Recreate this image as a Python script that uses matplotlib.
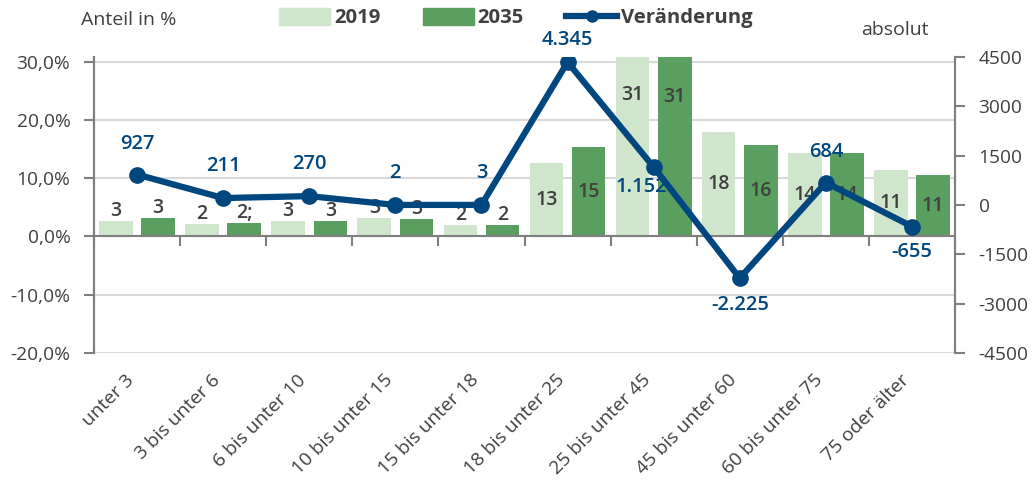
import numpy as np
import matplotlib
matplotlib.use("Agg")
import matplotlib.pyplot as plt
from matplotlib.lines import Line2D
from matplotlib.patches import Patch
from matplotlib.transforms import ScaledTranslation

plt.rcParams['font.family'] = ['Open Sans', 'DejaVu Sans']
plt.rcParams['axes.unicode_minus'] = False

# Altersgruppen und Anteile
kategorien = ["unter 3", "3 bis unter 6", "6 bis unter 10", "10 bis unter 15",
              "15 bis unter 18", "18 bis unter 25", "25 bis unter 45",
              "45 bis unter 60", "60 bis unter 75", "75 oder älter"]
anteil_2019 = [2.6, 2.2, 2.6, 3.2, 2.0, 12.6, 31.0, 17.9, 14.4, 11.4]
anteil_2035 = [3.1, 2.3, 2.7, 3.0, 1.9, 15.3, 30.8, 15.7, 14.4, 10.5]
etiketten_2019 = ["3", "2", "3", "3", "2", "13", "31", "18", "14", "11"]
etiketten_2035 = ["3", "2;", "3", "3", "2", "15", "31", "16", "14", "11"]
veraenderung = [927, 211, 270, 2, 3, 4345, 1152, -2225, 684, -655]

hell = "#cfe5cc"
dunkel = "#5a9e60"
blau = "#00467f"
grau_text = "#404040"
grau_achse = "#7f7f7f"

fig = plt.figure(figsize=(10.35, 4.95), dpi=100)
ax = fig.add_axes([94 / 1035, 1 - 353 / 495, (955 - 94) / 1035, (353 - 57) / 495])
ax2 = ax.twinx()

x = np.arange(len(kategorien))
breite = 0.39
off = 0.245
ax.bar(x - off, anteil_2019, breite, color=hell, zorder=2)
ax.bar(x + off, anteil_2035, breite, color=dunkel, zorder=2)

# Beschriftung der Balken
def balken_text(xpos, wert, text):
    if wert < 5:
        ax.annotate(text, (xpos, wert), xytext=(0, 0), textcoords="offset points",
                    ha="center", va="bottom", fontsize=14, fontweight="semibold",
                    color=grau_text, zorder=3)
    elif wert > 25:
        ax.text(xpos, wert - 6.8, text, ha="center", va="center", fontsize=14,
                fontweight="semibold", color=grau_text, zorder=3)
    else:
        ax.text(xpos, wert / 2, text, ha="center", va="center", fontsize=14,
                fontweight="semibold", color=grau_text, zorder=3)

for i in range(len(x)):
    balken_text(x[i] - off, anteil_2019[i], etiketten_2019[i])
    balken_text(x[i] + off, anteil_2035[i], etiketten_2035[i])

ax.set_xlim(-0.5, len(x) - 0.5)
ax.set_ylim(-20, 30.8)
ax.set_yticks(np.arange(-20, 31, 10))
ax.set_yticklabels([f"{v:.1f}".replace(".", ",") + "%" for v in np.arange(-20, 31, 10)])
ax.yaxis.grid(True, color="#d9d9d9", linewidth=1.5, zorder=0)
ax.set_axisbelow(True)

# x-Achse auf der Nulllinie, Teilstriche zwischen den Gruppen
ax.spines["bottom"].set_position(("data", 0))
ax.spines["bottom"].set_color(grau_achse)
ax.spines["bottom"].set_linewidth(1.5)
ax.set_xticks(x)
ax.set_xticks(np.arange(-0.5, len(x), 1), minor=True)
ax.set_xticklabels(kategorien, rotation=45, ha="right", va="top",
                   rotation_mode="anchor", fontsize=13.8, color=grau_text)
ax.tick_params(axis="x", which="major", length=0, pad=86)
ax.tick_params(axis="x", which="minor", length=7, width=1.5, color=grau_achse, direction="out")
verschiebung = ScaledTranslation(-0.12, -0.15, fig.dpi_scale_trans)
for lab in ax.get_xticklabels():
    lab.set_transform(lab.get_transform() + verschiebung)
ax.tick_params(axis="y", length=7, width=1.5, color=grau_achse, labelsize=13.8,
               labelcolor=grau_text, pad=10)

for a in (ax, ax2):
    a.spines["top"].set_visible(False)
    a.spines["left"].set_color(grau_achse)
    a.spines["right"].set_color(grau_achse)
    a.spines["left"].set_linewidth(1.5)
    a.spines["right"].set_linewidth(1.5)
ax2.spines["bottom"].set_visible(False)

# Veränderung absolut
ax2.plot(x, veraenderung, color=blau, linewidth=4.5, marker="o", markersize=11, zorder=4)
ax2.set_ylim(-4500, 4500)
ax2.set_yticks(np.arange(-4500, 4501, 1500))
ax2.tick_params(axis="y", length=7, width=1.5, color=grau_achse, labelsize=13.8,
                labelcolor=grau_text, pad=10)

versatz = [(0, 22), (0, 23), (0, 23), (0, 23), (0, 23), (0, 16), (-9, -14), (0, -19), (0, 22), (0, -18)]
for i, v in enumerate(veraenderung):
    txt = f"{v:,}".replace(",", ".")
    dx, dy = versatz[i]
    ax2.annotate(txt, (x[i], v), xytext=(dx, dy), textcoords="offset points",
                 ha="center", va="center", fontsize=14.5, fontweight="semibold",
                 color=blau, zorder=5)

# Legende und Achsentitel
griffe = [Patch(color=hell), Patch(color=dunkel),
          Line2D([0], [0], color=blau, linewidth=4.5, marker="o", markersize=8)]
leg = fig.legend(griffe, ["2019", "2035", "Veränderung"], ncol=3, frameon=False,
                 loc="center", bbox_to_anchor=(516 / 1035, 1 - 18 / 495),
                 handlelength=2.5, handleheight=0.9, columnspacing=2.1, handletextpad=0.2,
                 prop={"size": 14.6, "weight": "bold"})
for t in leg.get_texts():
    t.set_color(grau_text)

fig.text(129 / 1035, 1 - 20 / 495, "Anteil in %", ha="center", va="center",
         fontsize=14, color=grau_text)
fig.text(895 / 1035, 1 - 30 / 495, "absolut", ha="center", va="center",
         fontsize=14, color=grau_text)

fig.savefig("out.png", dpi=100)
